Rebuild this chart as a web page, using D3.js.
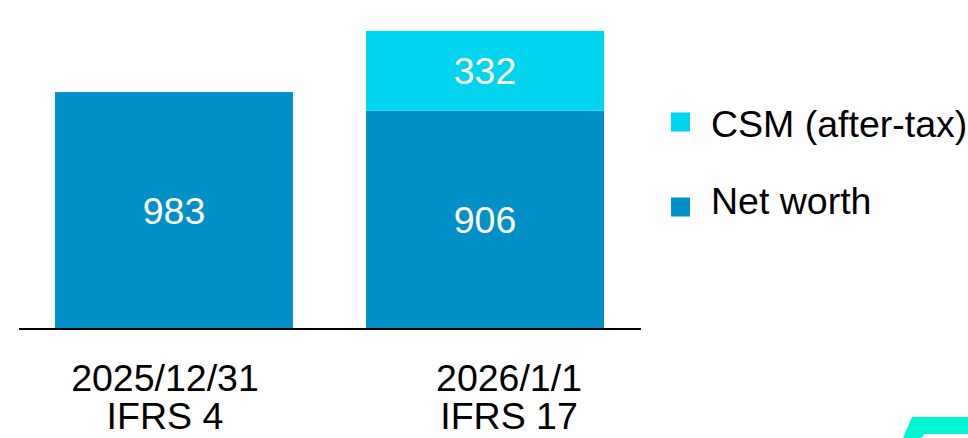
<!DOCTYPE html>
<html>
<head>
<meta charset="utf-8">
<script src="https://cdn.jsdelivr.net/npm/d3@7"></script>
<style>
  html, body { margin: 0; padding: 0; background: #fff; }
  svg { display: block; font-family: "Liberation Sans", Arial, sans-serif; }
</style>
</head>
<body>
<div id="chart"></div>
<script>
(function() {
    "use strict";

    // data
    const categories = ["2025/12/31", "2026/1/1"];
    const subLabels = ["IFRS 4", "IFRS 17"];
    const netWorth = [983, 906];
    const csm = [0, 332];
    const seriesNames = ["CSM (after-tax)", "Net worth"];

    const width = 968, height = 438;
    const fontSize = 37.5;
    const colors = { "Net worth": "#008fc7", "CSM (after-tax)": "#00d4ef" };

    const svg = d3.select("#chart").append("svg")
        .attr("width", width).attr("height", height);

    // scales
    const x = d3.scaleBand().domain(categories).range([55, 604])
        .paddingInner(0.235).paddingOuter(0);
    const y = d3.scaleLinear().domain([0, 1300]).range([328, 16]);

    // stack the two series
    const rows = categories.map((c, i) => ({ cat: c, "Net worth": netWorth[i], "CSM (after-tax)": csm[i] }));
    const stack = d3.stack().keys(["Net worth", "CSM (after-tax)"]);
    const layers = stack(rows);

    const g = svg.append("g");
    layers.forEach(function(layer) {
        const key = layer.key;
        g.selectAll(null)
            .data(layer.filter(d => d[1] - d[0] > 0))
            .enter().append("rect")
            .attr("x", d => x(d.data.cat))
            .attr("width", x.bandwidth())
            .attr("y", d => y(d[1]))
            .attr("height", d => y(d[0]) - y(d[1]))
            .attr("fill", colors[key]);

        g.selectAll(null)
            .data(layer.filter(d => d[1] - d[0] > 0))
            .enter().append("text")
            .attr("x", d => x(d.data.cat) + x.bandwidth() / 2)
            .attr("y", d => (y(d[0]) + y(d[1])) / 2)
            .attr("dy", "0.36em")
            .attr("text-anchor", "middle")
            .attr("fill", "#fff")
            .attr("font-size", fontSize)
            .text(d => d[1] - d[0]);
    });

    // baseline
    svg.append("line")
        .attr("x1", 19).attr("x2", 641)
        .attr("y1", y(0) + 1).attr("y2", y(0) + 1)
        .attr("stroke", "#000").attr("stroke-width", 2);

    // category labels (text boxes sit a bit off the bar centres)
    const labelShift = [-9, 24];
    categories.forEach(function(c, i) {
        const cx = x(c) + x.bandwidth() / 2 + labelShift[i];
        const t = svg.append("text")
            .attr("text-anchor", "middle")
            .attr("font-size", fontSize)
            .attr("fill", "#000");
        t.append("tspan").attr("x", cx).attr("y", 391).text(c);
        t.append("tspan").attr("x", cx).attr("y", 429).text(subLabels[i]);
    });

    // legend
    const legend = svg.append("g").attr("transform", "translate(671,0)");
    const legendY = d3.scalePoint().domain(seriesNames).range([122, 207]);
    const legendTextY = d3.scalePoint().domain(seriesNames).range([123, 200]);
    seriesNames.forEach(function(name) {
        legend.append("rect")
            .attr("x", 0).attr("y", legendY(name) - 9.5)
            .attr("width", 19).attr("height", 19)
            .attr("fill", colors[name]);
        legend.append("text")
            .attr("x", 40).attr("y", legendTextY(name))
            .attr("dy", "0.36em")
            .attr("font-size", fontSize)
            .attr("fill", "#000")
            .text(name);
    });

    // corner logo fragment
    svg.append("path")
        .attr("d", "M912,417 L968,417 L968,434 L924,434 L922,438 L903,438 Z")
        .attr("fill", "#00f5d4");
})();
</script>
</body>
</html>
